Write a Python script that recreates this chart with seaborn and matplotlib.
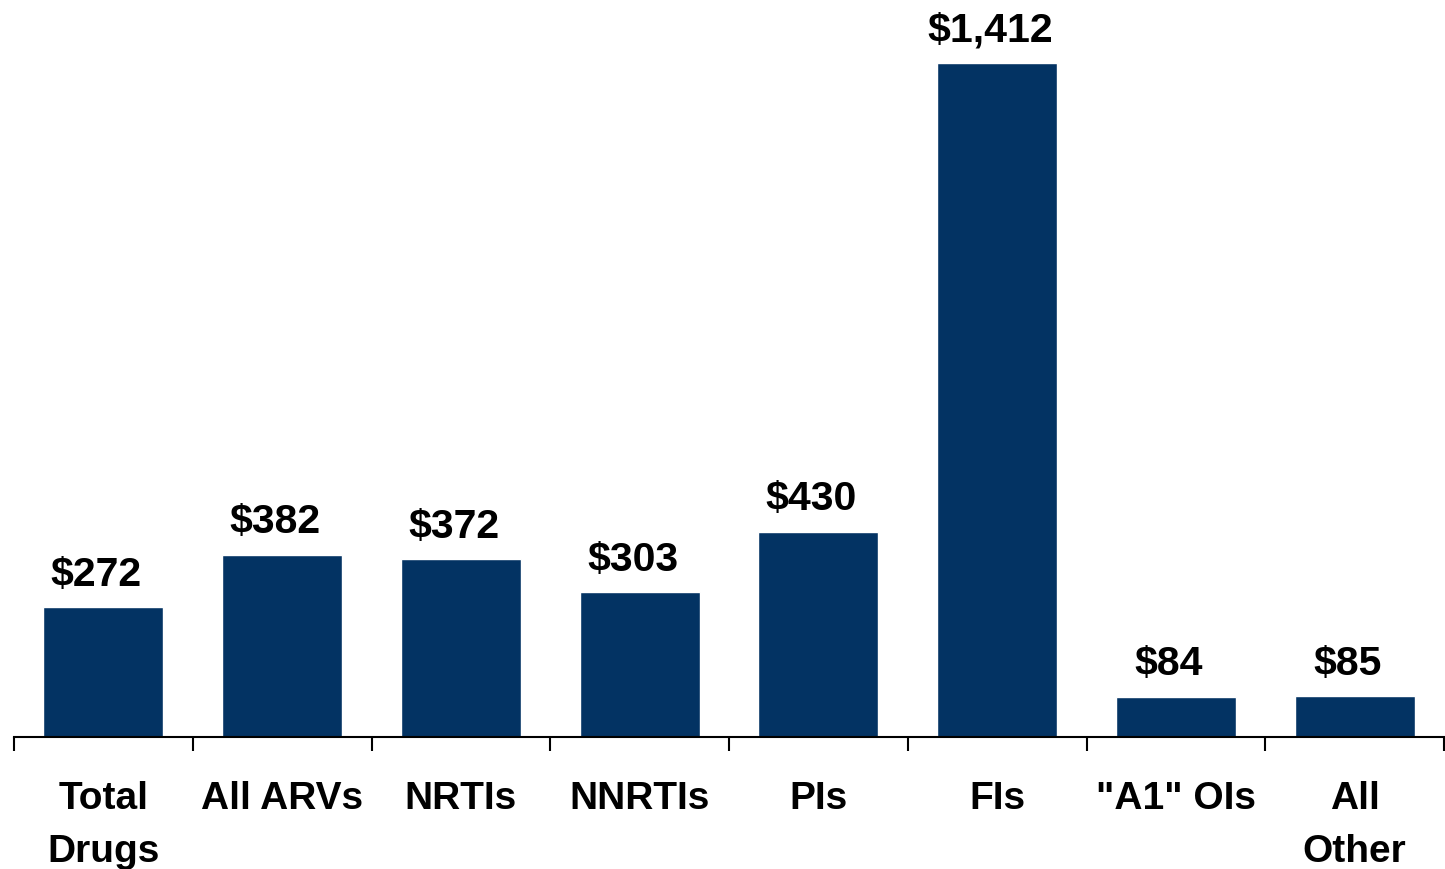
import matplotlib
matplotlib.use('Agg')
import matplotlib.pyplot as plt
import seaborn as sns
import pandas as pd
import numpy as np

# Datos del gráfico
categorias = ['Total\nDrugs', 'All ARVs', 'NRTIs', 'NNRTIs', 'PIs', 'FIs', '"A1" OIs', 'All\nOther']
valores = [272, 382, 372, 303, 430, 1412, 84, 85]
etiquetas = ['$272', '$382', '$372', '$303', '$430', '$1,412', '$84', '$85']

sns.set_style('white')
plt.rcParams['font.family'] = ['Liberation Sans', 'DejaVu Sans']
plt.rcParams['text.color'] = 'black'
plt.rcParams['xtick.color'] = 'black'

df = pd.DataFrame({'categoria': categorias, 'valor': valores})

fig = plt.figure(figsize=(14.45, 8.69), dpi=100)
ax = fig.add_axes([14 / 1445, 1 - 737 / 869, 1430 / 1445, 737 / 869])

sns.barplot(data=df, x='categoria', y='valor', color='#033363', saturation=1,
            width=0.67, ax=ax)

ax.set_xlim(-0.5, len(categorias) - 0.5)
ax.set_ylim(0, 1412 * 737 / 674)

# Etiquetas de valor
for i, (v, txt) in enumerate(zip(valores, etiquetas)):
    ax.annotate(txt, (i, v), xytext=(-5, 15.5), textcoords='offset points',
                ha='center', va='baseline', fontsize=29.5, fontweight='bold',
                color='black')

# Ejes
for s in ['left', 'top', 'right']:
    ax.spines[s].set_visible(False)
ax.spines['bottom'].set_color('black')
ax.spines['bottom'].set_linewidth(1.5)
ax.set_yticks([])
ax.set_xlabel('')
ax.set_ylabel('')

ax.set_xticks(np.arange(len(categorias)))
ax.set_xticklabels(categorias, fontsize=28, fontweight='bold', linespacing=1.6,
                   color='black')
ax.tick_params(axis='x', which='major', length=0, pad=32)
ax.set_xticks(np.arange(len(categorias) + 1) - 0.5, minor=True)
ax.tick_params(axis='x', which='minor', bottom=True, length=10, width=1.5,
               color='black', direction='out')

fig.savefig('out.png', dpi=100)
